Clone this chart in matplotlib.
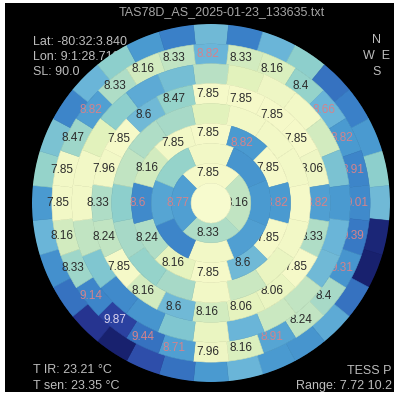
import numpy as np
import matplotlib
matplotlib.use("Agg")
import matplotlib.pyplot as plt
from matplotlib.colors import Normalize, LinearSegmentedColormap
from matplotlib.patches import Rectangle

plt.rcParams['font.family'] = ['Liberation Sans', 'DejaVu Sans']

title = "TAS78D_AS_2025-01-23_133635.txt"
info_top = ["Lat: -80:32:3.840", "Lon: 9:1:28.718", "SL: 90.0"]
compass = ["N", "W  E", "S"]
info_left = ["T IR: 23.21 °C", "T sen: 23.35 °C"]
info_right = ["TESS P", "Range: 7.72 10.2"]
vmin, vmax = 7.72, 10.2

# cell values, ring by ring from the zenith outwards, clockwise from north
zenith = 7.8
ring1 = [7.85, 8.3, 8.4, 9.1]
ring2 = [7.9, 9.2, 9.15, 9.1, 7.9, 9.35, 9.05, 8.55]
ring3 = [7.85, 9.15, 7.85, 9.15, 7.85, 8.85, 7.85, 8.05, 8.4, 9.3, 8.2, 7.9]
ring4 = [8.1, 7.9, 7.9, 7.9, 7.85, 7.9, 8.0, 8.25,
         7.9, 8.45, 8.55, 8.45, 8.6, 8.3, 8.4, 8.45]
ring5 = [7.85, 7.85, 7.85, 7.85, 7.95, 9.1, 8.4, 7.85, 8.0, 8.05,
         8.2, 8.85, 8.2, 7.85, 8.3, 8.4, 7.9, 7.85, 8.85, 8.55]
ring6 = [8.35, 8.1, 7.95, 7.9, 8.2, 8.75, 9.15, 8.9, 8.85, 8.3, 8.25, 8.9,
         8.0, 8.7, 9.2, 9.3, 8.7, 8.3, 7.9, 7.9, 8.1, 8.6, 9.0, 8.8]
ring7 = [8.9, 8.2, 8.15, 8.55, 8.9, 9.15, 9.35, 9.3, 9.45, 9.2, 8.45, 8.3, 9.05, 8.15,
         7.95, 9.1, 9.5, 9.85, 9.35, 8.5, 8.2, 7.9, 7.9, 8.5, 9.1, 8.4, 8.2, 8.3]
ring8 = [8.85, 9.4, 8.9, 8.6, 9.5, 9.4, 9.15, 8.6, 8.85, 10.1, 10.15, 9.5, 9.0, 9.2, 9.15, 8.9,
         9.15, 9.5, 9.75, 10.15, 9.95, 9.5, 9.25, 8.9, 9.15, 8.55, 8.75, 9.35, 8.9, 8.6, 9.15, 9.4]
rings = [ring1, ring2, ring3, ring4, ring5, ring6, ring7, ring8]

# measured values printed on rings 1, 3, 5 and 7
lab1 = ["7.85", "8.16", "8.33", "8.77"]
lab3 = ["7.85", "8.82", "7.85", "8.82", "7.85", "8.6", "7.85", "8.16", "8.24", "8.6", "8.16", "7.85"]
lab5 = ["7.85", "7.85", "7.85", "7.85", "8.06", "8.82", "8.33", "7.85", "8.06", "8.06",
        "8.16", "8.6", "8.16", "7.85", "8.24", "8.33", "7.96", "7.85", "8.6", "8.47"]
lab7 = ["8.82", "8.33", "8.16", "8.4", "8.66", "8.82", "8.91", "9.01", "9.39", "9.31", "8.4", "8.24",
        "8.91", "8.16", "7.96", "8.71", "9.44", "9.87", "9.14", "8.33", "8.16", "7.85", "7.85",
        "8.47", "8.82", "8.33", "8.16", "8.33"]
labels = {1: lab1, 3: lab3, 5: lab5, 7: lab7}

# yellow-green-blue scale as it shows in the original picture
stops = [7.72, 7.85, 8.1, 8.35, 8.6, 8.9, 9.15, 9.4, 9.7, 9.9, 10.2]
stop_cols = ['#fbfdd8', '#f5f9c8', '#e2f2bc', '#b8e0c4', '#8ccfcc', '#6ab5d8',
             '#4a9ad0', '#3a80c8', '#2f55b0', '#2a3a9a', '#141c66']
norm = Normalize(vmin, vmax)
cmap = LinearSegmentedColormap.from_list('sky', list(zip(norm(stops), stop_cols)))

fig = plt.figure(figsize=(4.1, 3.95), dpi=100, facecolor='white')
fig.add_artist(Rectangle((5 / 410, 3 / 395), 389 / 410, 389 / 395, transform=fig.transFigure,
                         facecolor='black', edgecolor='none', zorder=-3))

ax = fig.add_axes([32 / 410, 13 / 395, 358 / 410, 358 / 395], projection='polar')
ax.set_theta_zero_location('N')
ax.set_theta_direction(-1)

# zenith disk
c0 = cmap(norm(zenith))
ax.bar(0, 1, width=2 * np.pi, bottom=0, color=c0, edgecolor=c0, linewidth=0.4, zorder=20)

for k, vals in enumerate(rings, start=1):
    n = len(vals)
    theta = np.arange(n) * 2 * np.pi / n
    cols = cmap(norm(vals))
    # inner rings sit on top so they hide the edges of outer labels
    ax.bar(theta, 1, width=2 * np.pi / n, bottom=k, color=cols, edgecolor=cols,
           linewidth=0.4, zorder=20 - 2 * k)
    if k in labels:
        for i, txt in enumerate(labels[k]):
            v = vals[i]
            if v >= 9.7:
                tc = '#ddd5ef'
            elif v >= 8.88:
                tc = '#d4838c'
            else:
                tc = '#2b2b2b'
            ax.annotate(txt, xy=(theta[i], k + 0.5), xytext=(-3.5, 0), textcoords='offset pixels',
                        ha='center', va='center', fontsize=8.5, color=tc, zorder=21 - 2 * k)

ax.set_ylim(0, 9)
ax.set_axis_off()

# texts around the map, drawn under the axes
txt_col = '#bdbdbd'
fig.text(222 / 410, 1 - 12 / 395, title, ha='center', va='center', fontsize=9, color='#a5a5a5', zorder=-1)
for j, line in enumerate(info_top):
    fig.text(33 / 410, 1 - (42 + 15 * j) / 395, line, ha='left', va='center', fontsize=9,
             color=txt_col, zorder=-1)
for j, line in enumerate(compass):
    fig.text(377 / 410, 1 - (40 + 16 * j) / 395, line, ha='center', va='center', fontsize=9,
             color=txt_col, zorder=-1)
for j, line in enumerate(info_left):
    fig.text(33 / 410, 1 - (370 + 16 * j) / 395, line, ha='left', va='center', fontsize=9,
             color=txt_col, zorder=-1)
for j, line in enumerate(info_right):
    fig.text(392 / 410, 1 - (371 + 15 * j) / 395, line, ha='right', va='center', fontsize=9,
             color=txt_col, zorder=-1)

fig.savefig("out.png", dpi=100, facecolor=fig.get_facecolor())
